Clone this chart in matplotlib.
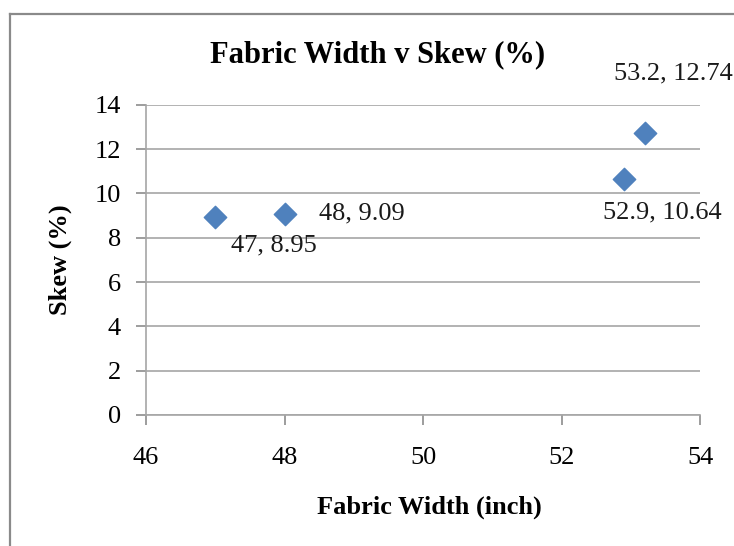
import matplotlib
matplotlib.use('Agg')
import matplotlib.pyplot as plt
from matplotlib.lines import Line2D

# data
fabric_width = [47, 48, 52.9, 53.2]
skew = [8.95, 9.09, 10.64, 12.74]
point_labels = ['47, 8.95', '48, 9.09', '52.9, 10.64', '53.2, 12.74']
x_ticks = [46, 48, 50, 52, 54]
y_ticks = [0, 2, 4, 6, 8, 10, 12, 14]

plt.rcParams['font.family'] = ['Liberation Serif', 'DejaVu Serif']

fig = plt.figure(figsize=(7.34, 5.46), dpi=100)
ax = fig.add_axes([0.199, 0.240, 0.755, 0.568])

ax.scatter(fabric_width, skew, marker='D', s=130, color='#4F81BD', zorder=3)

# data labels (offsets in pixels)
offsets = [(59, -29, 'center'), (34, 0, 'left'), (38, -33, 'center'), (-31, 59, 'left')]
for xv, yv, lab, (dx, dy, ha) in zip(fabric_width, skew, point_labels, offsets):
    ax.annotate(lab, (xv, yv), xytext=(dx, dy), textcoords='offset pixels',
                ha=ha, va='center', fontsize=19, color='#1a1a1a',
                annotation_clip=False)

ax.set_xlim(46, 54)
ax.set_ylim(0, 14)
ax.set_xticks(x_ticks)
ax.set_yticks(y_ticks)
ax.tick_params(labelsize=19, colors='#8c8c8c', labelcolor='black', length=7, width=1.2)
ax.tick_params(axis='x', pad=16)
ax.tick_params(axis='y', pad=11)
ax.grid(axis='y', color='#a6a6a6', linewidth=1.2)
ax.set_axisbelow(True)
for side in ['top', 'right']:
    ax.spines[side].set_visible(False)
for side in ['left', 'bottom']:
    ax.spines[side].set_color('#a6a6a6')
    ax.spines[side].set_linewidth(1.2)

fig.text(0.515, 0.899, 'Fabric Width v Skew (%)', ha='center', va='center',
         fontsize=22, fontweight='bold')
fig.text(0.585, 0.071, 'Fabric Width (inch)', ha='center', va='center',
         fontsize=19, fontweight='bold')
fig.text(0.082, 0.524, 'Skew (%)', ha='center', va='center', rotation=90,
         fontsize=19, fontweight='bold')

# chart area border (runs off the right and bottom edges)
fig.add_artist(Line2D([0.013, 0.013], [0.0, 0.974], color='#8a8a8a', linewidth=1.6))
fig.add_artist(Line2D([0.013, 1.0], [0.974, 0.974], color='#8a8a8a', linewidth=1.6))

fig.savefig('out.png', dpi=100)
plt.close()
